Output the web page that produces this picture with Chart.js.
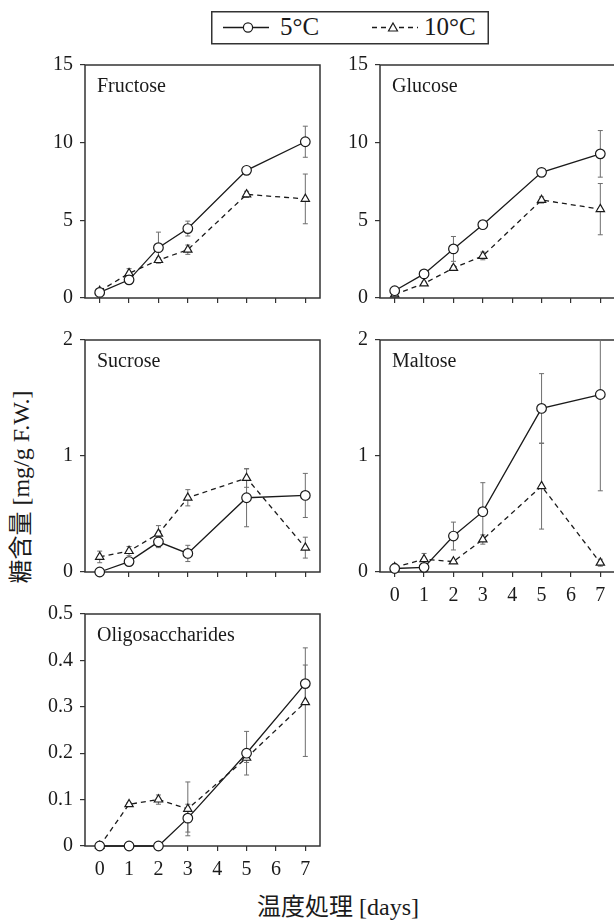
<!DOCTYPE html>
<html><head><meta charset="utf-8">
<script src="https://cdn.jsdelivr.net/npm/chart.js@4.4.1/dist/chart.umd.min.js"></script>
<style>
html,body{margin:0;padding:0;background:#fff;width:614px;height:920px;overflow:hidden;position:relative;}
canvas{position:absolute;}
.txt{position:absolute;font-family:"Liberation Serif","Noto Sans CJK JP",serif;color:#1a1a1a;white-space:nowrap;}
</style></head>
<body>
<svg style="position:absolute;left:0;top:0" width="614" height="60">
  <rect x="211.75" y="11.75" width="276.5" height="32" fill="#fff" stroke="#333" stroke-width="1.5"/>
  <line x1="223" y1="27.5" x2="269" y2="27.5" stroke="#1a1a1a" stroke-width="1.3"/>
  <circle cx="248" cy="27.5" r="4.6" fill="#fff" stroke="#1a1a1a" stroke-width="1.2"/>
  <line x1="372" y1="27.5" x2="418" y2="27.5" stroke="#1a1a1a" stroke-width="1.3" stroke-dasharray="5,4"/>
  <polygon points="393,23 397.5,31 388.5,31" fill="#fff" stroke="#1a1a1a" stroke-width="1.2"/>
</svg>
<div class="txt" style="left:280px;top:12px;font-size:25px;line-height:30px;">5°C</div>
<div class="txt" style="left:424px;top:12px;font-size:25px;line-height:30px;">10°C</div>
<div class="txt" style="left:-129px;top:472px;width:300px;text-align:center;font-size:24px;line-height:30px;transform:rotate(-90deg);">糖含量 [mg/g F.W.]</div>
<div class="txt" style="left:257px;top:892px;font-size:24px;line-height:30px;">温度処理 [days]</div>

<script>
// ---- data ----
const days = [0, 1, 2, 3, 5, 7];
const dayTicks = [0, 1, 2, 3, 4, 5, 6, 7];
const seriesNames = ['5°C', '10°C'];

const fructose5 = [0.36, 1.17, 3.24, 4.47, 8.22, 10.06];
const fructose5Err = [0.1, 0.15, 1.0, 0.48, 0.1, 1.0];
const fructose10 = [0.45, 1.59, 2.44, 3.11, 6.67, 6.38];
const fructose10Err = [0.1, 0.3, 0.15, 0.3, 0.2, 1.6];

const glucose5 = [0.47, 1.55, 3.16, 4.72, 8.09, 9.28];
const glucose5Err = [0.1, 0.1, 0.8, 0.2, 0.15, 1.5];
const glucose10 = [0.23, 0.93, 1.93, 2.71, 6.31, 5.72];
const glucose10Err = [0.05, 0.1, 0.15, 0.25, 0.2, 1.65];

const sucrose5 = [0.0, 0.09, 0.26, 0.16, 0.64, 0.66];
const sucrose5Err = [0.01, 0.02, 0.05, 0.07, 0.25, 0.19];
const sucrose10 = [0.13, 0.18, 0.33, 0.64, 0.81, 0.21];
const sucrose10Err = [0.05, 0.04, 0.07, 0.07, 0.08, 0.09];

const maltose5 = [0.03, 0.04, 0.31, 0.52, 1.41, 1.53];
const maltose5Err = [0.01, 0.01, 0.12, 0.25, 0.30, 0.83];
const maltose10 = [0.04, 0.11, 0.09, 0.28, 0.74, 0.08];
const maltose10Err = [0.03, 0.05, 0.01, 0.04, 0.37, 0.03];

const oligo5 = [0, 0, 0, 0.06, 0.20, 0.35];
const oligo5Err = [0, 0, 0, 0.03, 0.047, 0.04];
const oligo10 = [0, 0.09, 0.10, 0.08, 0.19, 0.31];
const oligo10Err = [0, 0.003, 0.01, 0.058, 0.01, 0.117];

const ticksMono = [0, 5, 10, 15];
const ticksDi = [0, 1, 2];
const ticksOligo = [0, 0.1, 0.2, 0.3, 0.4, 0.5];

// ---- drawing ----
const INK = '#1a1a1a';
const YW = 75, PT = 16, PR = 8, XH = 45;

const framePlugin = {
  id: 'frame',
  beforeDatasetsDraw(chart, args, opts) {
    const ctx = chart.ctx, ca = chart.chartArea;
    ctx.save();
    ctx.strokeStyle = '#333'; ctx.lineWidth = 1.5;
    ctx.strokeRect(ca.left, ca.top, ca.right - ca.left, ca.bottom - ca.top);
    ctx.fillStyle = INK;
    ctx.font = '20px "Liberation Serif"';
    ctx.textBaseline = 'alphabetic';
    ctx.textAlign = 'left';
    ctx.fillText(opts.text, ca.left + 12, ca.top + 27);
    ctx.restore();
  }
};

const errorBarPlugin = {
  id: 'errorBars',
  beforeDatasetsDraw(chart) {
    const ctx = chart.ctx, ca = chart.chartArea, ys = chart.scales.y;
    ctx.save();
    ctx.beginPath();
    ctx.rect(ca.left, ca.top - 1, ca.right - ca.left, ca.bottom - ca.top + 2);
    ctx.clip();
    ctx.strokeStyle = '#6e6e6e'; ctx.lineWidth = 1;
    chart.data.datasets.forEach((ds, di) => {
      const meta = chart.getDatasetMeta(di);
      ds.errors.forEach((e, i) => {
        if (!e) return;
        const x = meta.data[i].x;
        const v = ds.data[i].y;
        const yt = ys.getPixelForValue(v + e), yb = ys.getPixelForValue(v - e);
        ctx.beginPath();
        ctx.moveTo(x, yt); ctx.lineTo(x, yb);
        ctx.moveTo(x - 2.5, yt); ctx.lineTo(x + 2.5, yt);
        ctx.moveTo(x - 2.5, yb); ctx.lineTo(x + 2.5, yb);
        ctx.stroke();
      });
    });
    ctx.restore();
  }
};

function fmt(v) { return String(+(+v).toFixed(2)); }

function makePanel(p) {
  const cv = document.createElement('canvas');
  const w = YW + p.plotW + PR, h = PT + p.plotH + XH;
  cv.width = w; cv.height = h;
  cv.style.left = (p.left - YW) + 'px';
  cv.style.top = (p.top - PT) + 'px';
  cv.style.width = w + 'px'; cv.style.height = h + 'px';
  document.body.appendChild(cv);
  const mk = (vals) => days.map((d, i) => ({ x: d, y: vals[i] }));
  new Chart(cv, {
    type: 'line',
    data: {
      datasets: [
        { label: seriesNames[0], data: mk(p.s5), errors: p.e5, borderColor: INK, borderWidth: 1.3,
          pointStyle: 'circle', pointRadius: 4.8, pointBorderWidth: 1.2, pointBackgroundColor: '#fff',
          pointBorderColor: INK, tension: 0, clip: false },
        { label: seriesNames[1], data: mk(p.s10), errors: p.e10, borderColor: INK, borderWidth: 1.3,
          borderDash: [5, 4], pointStyle: 'triangle', pointRadius: 4.8, pointBorderWidth: 1.2,
          pointBackgroundColor: '#fff', pointBorderColor: INK, tension: 0, clip: false }
      ]
    },
    options: {
      responsive: false, animation: false, devicePixelRatio: 1,
      layout: { padding: { top: PT, right: PR, left: 0, bottom: 0 } },
      plugins: { legend: { display: false }, tooltip: { enabled: false }, frame: { text: p.title } },
      scales: {
        x: {
          type: 'linear', min: -0.5, max: 7.5,
          afterBuildTicks: s => { s.ticks = dayTicks.map(v => ({ value: v })); },
          afterFit: s => { s.height = XH; },
          border: { display: false },
          grid: { display: true, drawOnChartArea: false, drawTicks: true, tickLength: 5, color: '#333', lineWidth: 1.2 },
          ticks: { autoSkip: false, maxRotation: 0, padding: 7, color: INK,
                   font: { family: 'Liberation Serif', size: 20 },
                   callback: v => p.xLabels ? fmt(v) : '' }
        },
        y: {
          type: 'linear', min: p.yTicks[0], max: p.yTicks[p.yTicks.length - 1],
          afterBuildTicks: s => { s.ticks = p.yTicks.map(v => ({ value: v })); },
          afterFit: s => { s.width = YW; },
          border: { display: false },
          grid: { display: true, drawOnChartArea: false, drawTicks: true, tickLength: 5, color: '#333', lineWidth: 1.2 },
          ticks: { padding: 7, color: INK, font: { family: 'Liberation Serif', size: 20 }, callback: v => fmt(v) }
        }
      }
    },
    plugins: [framePlugin, errorBarPlugin]
  });
}

makePanel({ title: 'Fructose', left: 85, top: 62, plotW: 235, plotH: 236, xLabels: false, yTicks: ticksMono,
  s5: fructose5, e5: fructose5Err, s10: fructose10, e10: fructose10Err });
makePanel({ title: 'Glucose', left: 380, top: 62, plotW: 235, plotH: 236, xLabels: false, yTicks: ticksMono,
  s5: glucose5, e5: glucose5Err, s10: glucose10, e10: glucose10Err });
makePanel({ title: 'Sucrose', left: 85, top: 337, plotW: 235, plotH: 235, xLabels: false, yTicks: ticksDi,
  s5: sucrose5, e5: sucrose5Err, s10: sucrose10, e10: sucrose10Err });
makePanel({ title: 'Maltose', left: 380, top: 337, plotW: 235, plotH: 235, xLabels: true, yTicks: ticksDi,
  s5: maltose5, e5: maltose5Err, s10: maltose10, e10: maltose10Err });
makePanel({ title: 'Oligosaccharides', left: 85, top: 611, plotW: 235, plotH: 235, xLabels: true, yTicks: ticksOligo,
  s5: oligo5, e5: oligo5Err, s10: oligo10, e10: oligo10Err });
</script>
</body></html>
